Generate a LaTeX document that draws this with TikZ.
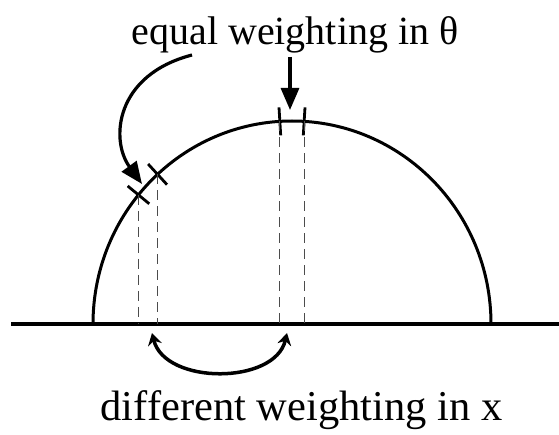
\documentclass[tikz,border=0pt]{standalone}
\usepackage{fontspec}
\setmainfont{Liberation Serif}
\usetikzlibrary{arrows.meta,calc}
\begin{document}
\begin{tikzpicture}[x=1pt,y=1pt,
  arcline/.style={line width=3pt},
  baseline/.style={line width=3.5pt},
  tickmark/.style={line width=2.8pt},
  guide/.style={line width=1.2pt, black!70, dash pattern=on 10pt off 6pt},
  bigarrow/.style={line width=3.2pt, -{Triangle[length=22pt,width=18pt]}},
  swaparrow/.style={line width=3.5pt, {Stealth[length=12pt,width=14pt,inset=4pt]}-{Stealth[length=12pt,width=14pt,inset=4pt]}},
  lbl/.style={font=\fontsize{40}{46}\selectfont, anchor=base, inner sep=0pt}]
\useasboundingbox (0,0) rectangle (559,434);
% centre of the half circle
\coordinate (C) at (292,110);
\coordinate (L) at (11,110);
\coordinate (R) at (559,110);
\draw[baseline] (L) -- (R);
\draw[arcline] ($(C)+(180:199 and 203)$) arc[start angle=180,end angle=0,x radius=199,y radius=203];
% points on the arc
\foreach \n/\a in {t1/93.5,t2/86.5,s1/140.5,s2/132.5}{
  \coordinate (\n) at ($(C)+(\a:199 and 203)$);
  \draw[tickmark] ($(C)+(\a:185 and 189)$) -- ($(C)+(\a:213 and 217)$);
  \draw[guide] (\n) -- (\n |- C);
}
% texts
\node[lbl] (eq) at (295,389) {equal weighting in θ};
\node[lbl, font=\fontsize{42.5}{48}\selectfont] (diff) at (301.5,14) {different weighting in x};
% arrows
\coordinate (a0) at (290,377);
\coordinate (a1) at (290,324);
\draw[bigarrow] (a0) -- (a1);
\coordinate (b0) at (192,379);
\coordinate (b1) at (142,250);
\draw[bigarrow] (b0) .. controls (115,359) and (110,294) .. (b1);
\coordinate (c0) at (152,101);
\coordinate (c1) at (287,101);
\draw[swaparrow] (c0) .. controls (165,49) and (275,49) .. (c1);
\end{tikzpicture}
\end{document}
